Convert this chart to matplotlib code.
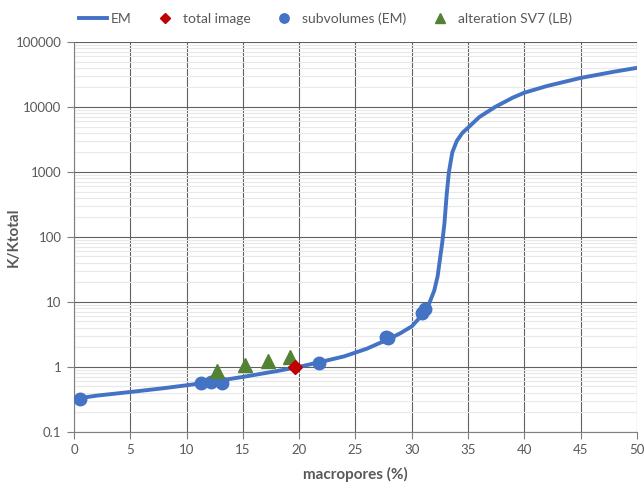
import matplotlib.pyplot as plt
from matplotlib.ticker import LogLocator, FixedLocator, NullFormatter

plt.rcParams['font.family'] = ['Lato', 'DejaVu Sans']

# EM curve
em_x = [0, 2, 5, 8, 10, 12, 15, 18, 20, 22, 24, 26, 28, 29, 30, 31, 31.5, 32, 32.3, 32.5,
        32.7, 32.9, 33.1, 33.3, 33.6, 34, 34.5, 35, 36, 37.4, 39, 40, 42, 45, 48, 50]
em_k = [0.32, 0.36, 0.41, 0.47, 0.52, 0.58, 0.70, 0.86, 1.0, 1.2, 1.45, 1.9, 2.7, 3.3, 4.2, 6.5, 9,
        15, 25, 45, 80, 160, 450, 1000, 2000, 3000, 4000, 4800, 7000, 10000, 14000, 16600,
        21000, 28000, 35000, 40000]

total_x = [19.6]
total_k = [0.99]

sub_x = [0.5, 11.3, 12.2, 13.1, 21.8, 27.7, 27.9, 30.9, 31.2]
sub_k = [0.32, 0.56, 0.59, 0.57, 1.16, 2.85, 2.8, 6.8, 7.9]

alt_x = [12.7, 15.2, 17.2, 19.2]
alt_k = [0.85, 1.07, 1.21, 1.41]

yticks = [0.1, 1, 10, 100, 1000, 10000, 100000]
ylabels = ['0.1', '1', '10', '100', '1000', '10000', '100000']

fig = plt.figure(figsize=(6.44, 4.83), dpi=100)
ax = fig.add_axes([0.115, 0.106, 0.874, 0.807])

ax.plot(em_x, em_k, color='#4472C4', lw=2.8, label='EM', zorder=3)
ax.plot(total_x, total_k, 'D', color='#C00000', ms=7, label='total image', zorder=5)
ax.plot(sub_x, sub_k, 'o', color='#4472C4', ms=9, label='subvolumes (EM)', zorder=4)
ax.plot(alt_x, alt_k, '^', color='#548235', ms=10, label='alteration SV7 (LB)', zorder=4)

ax.set_yscale('log')
ax.set_xlim(0, 50)
ax.set_ylim(0.1, 100000)
ax.xaxis.set_major_locator(FixedLocator(range(0, 51, 5)))
ax.yaxis.set_major_locator(FixedLocator(yticks))
ax.set_yticklabels(ylabels)
ax.yaxis.set_minor_locator(LogLocator(base=10, subs=range(2, 10), numticks=20))
ax.yaxis.set_minor_formatter(NullFormatter())
ax.tick_params(axis='y', which='minor', length=0)

ax.grid(True, which='major', color='#606060', lw=0.8)
ax.grid(True, which='minor', axis='y', color='#e8e8e8', lw=0.8)
ax.set_axisbelow(True)

for s in ['top', 'right']:
    ax.spines[s].set_visible(False)
for s in ['left', 'bottom']:
    ax.spines[s].set_color('#7f7f7f')
ax.tick_params(which='major', colors='#7f7f7f', labelcolor='#595959', labelsize=9.5,
               length=5, pad=4)

ax.set_xlabel('macropores (%)', fontsize=11, fontweight='bold', color='#595959')
ax.set_ylabel('K/Ktotal', fontsize=11, fontweight='bold', color='#595959')
ax.xaxis.set_label_coords(0.5, -0.09)
ax.yaxis.set_label_coords(-0.095, 0.5)

fig.legend(loc='upper center', bbox_to_anchor=(0.505, 1.0), ncol=4, frameon=False,
           fontsize=10, labelcolor='#595959', handlelength=2.0, handletextpad=0.3,
           columnspacing=1.4, markerscale=0.75)

fig.savefig('out.png', dpi=100)
